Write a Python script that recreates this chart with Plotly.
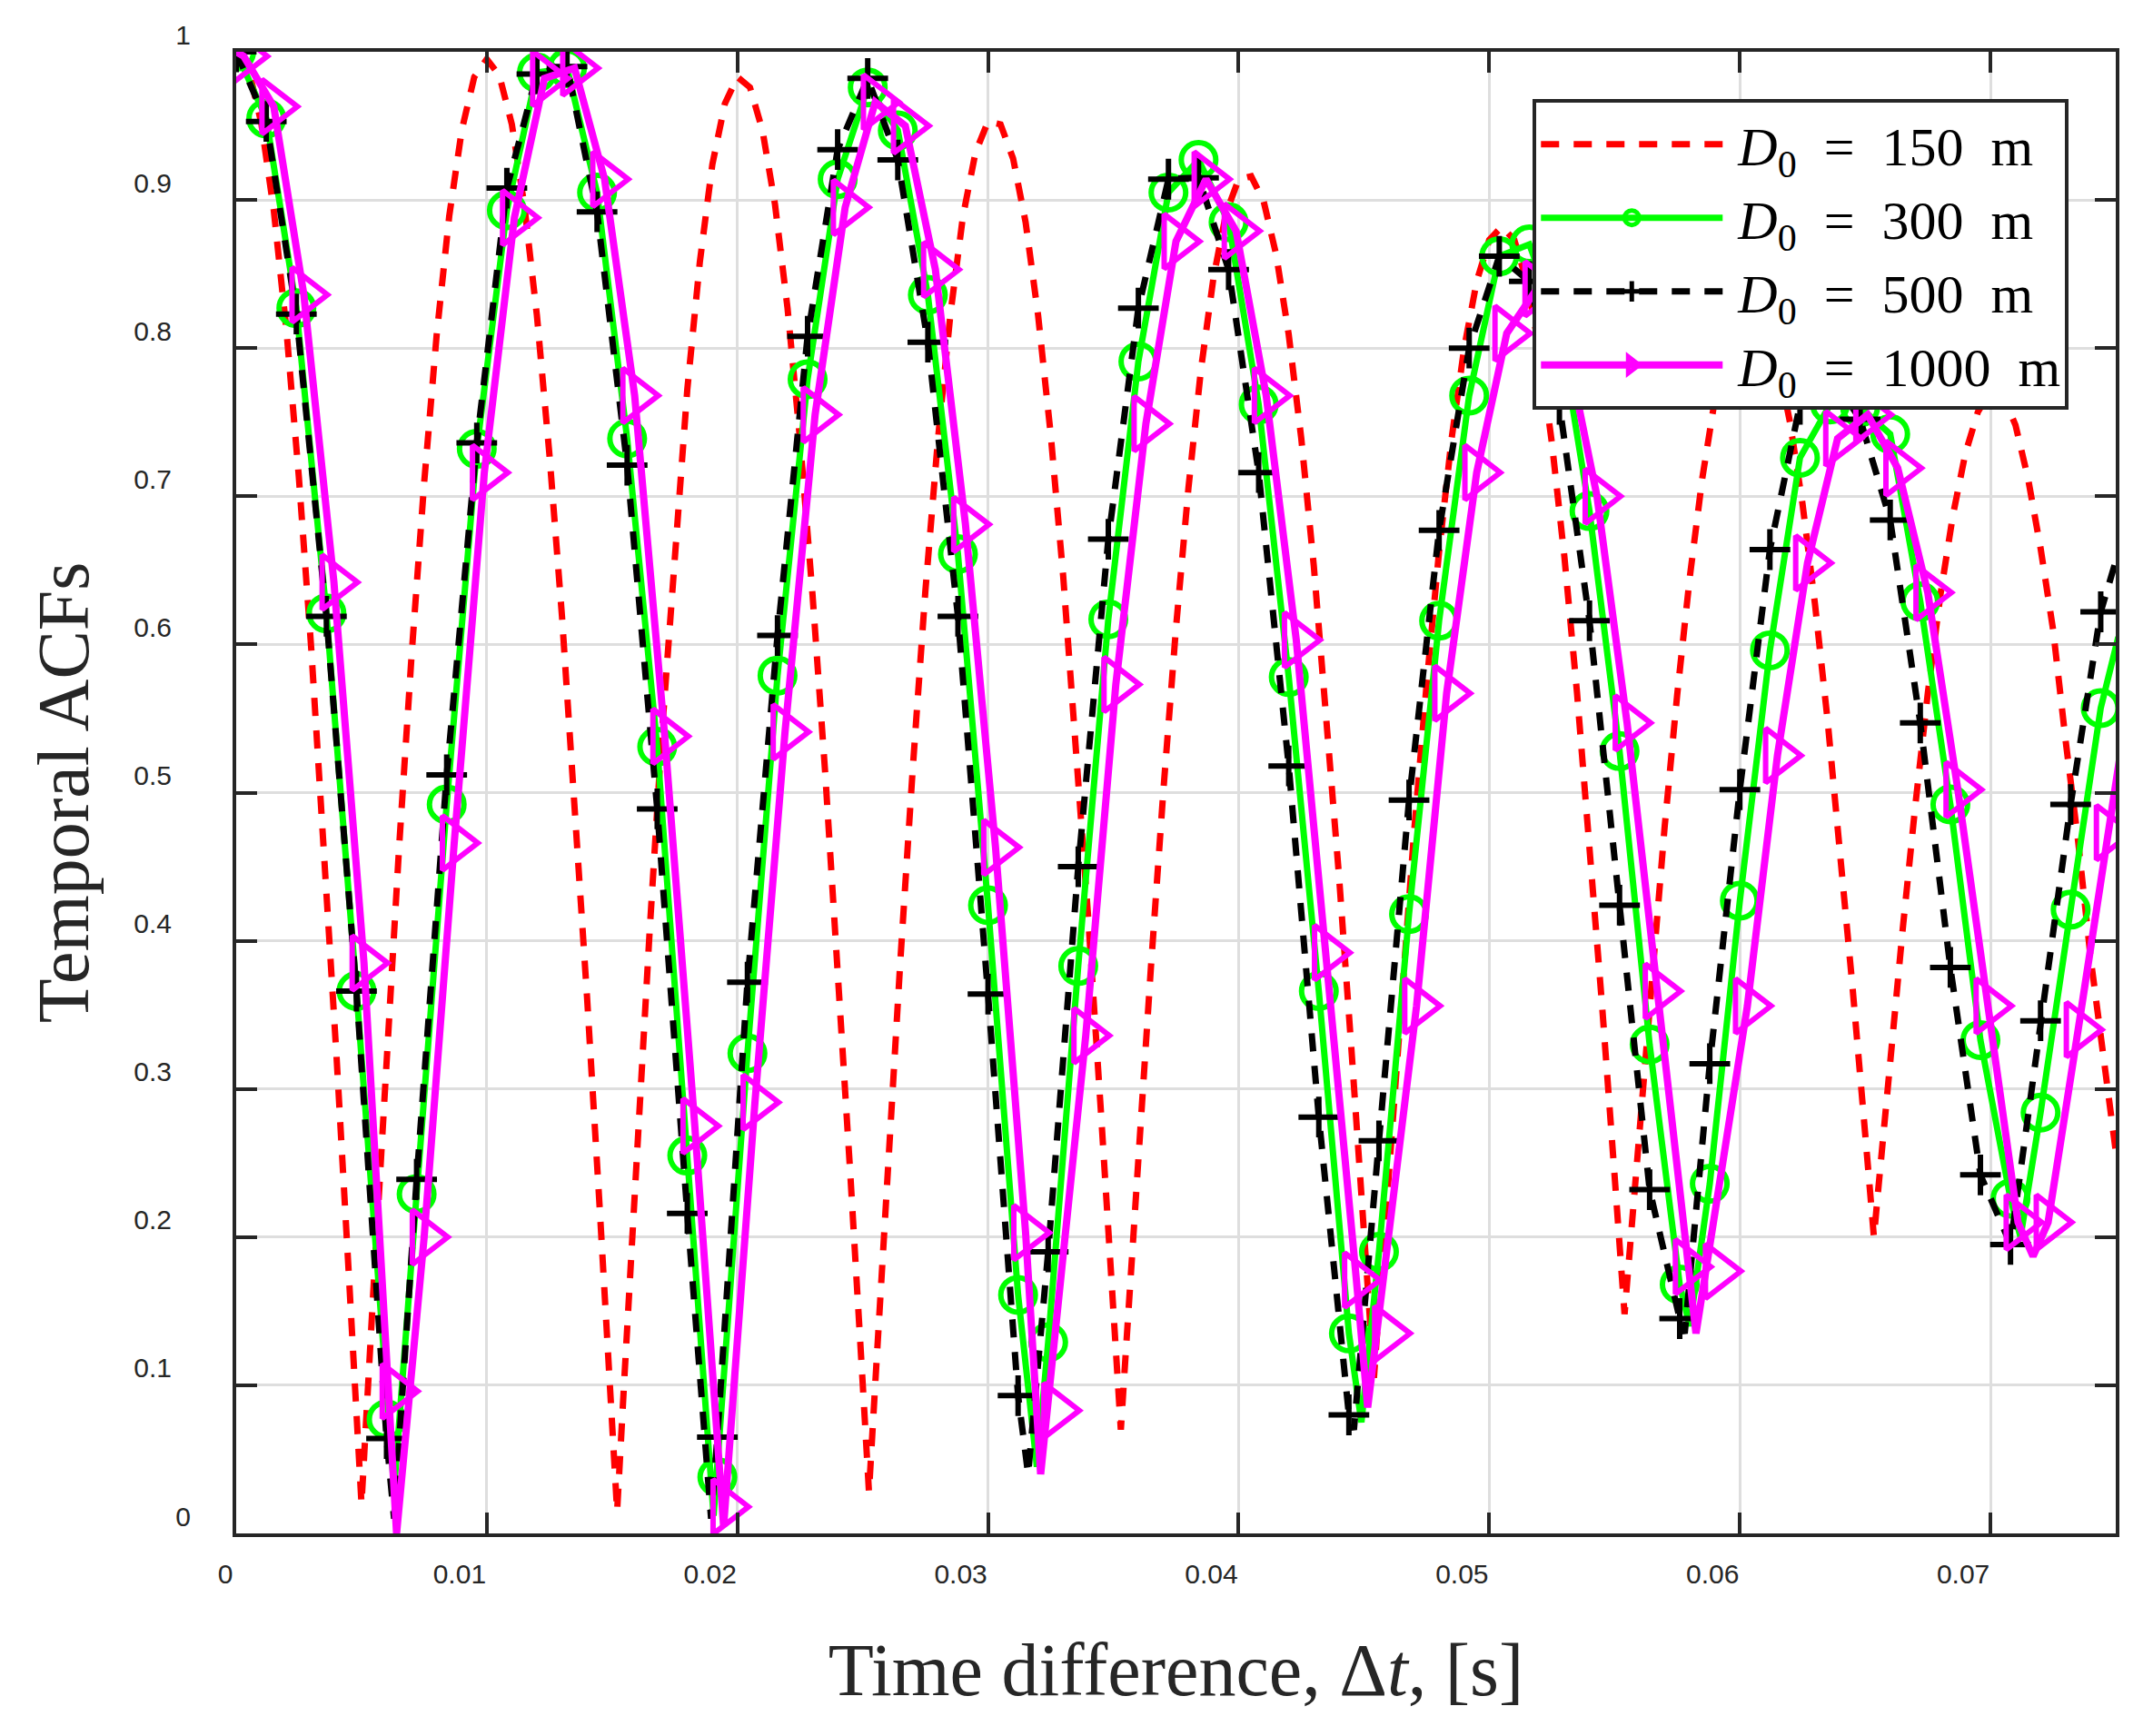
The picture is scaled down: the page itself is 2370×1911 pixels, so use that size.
import numpy as np
import plotly.graph_objects as go

# ---- D0 = 150 m (red dashed), time in ms ----
red_t = [0.0, 0.5, 1.0, 1.5, 2.0, 2.5, 3.0, 3.5, 4.0, 4.5, 5.0,
         5.5, 6.0, 6.5, 7.0, 7.5, 8.0, 8.5, 9.0, 9.5, 10.0,
         10.5, 11.0, 11.5, 12.0, 12.5, 13.0, 13.5, 14.0, 14.5, 15.0, 15.2,
         15.5, 16.0, 16.5, 17.0, 17.5, 18.0, 18.5, 19.0, 19.5, 20.0,
         20.5, 21.0, 21.5, 22.0, 22.5, 23.0, 23.5, 24.0, 24.5, 25.0, 25.25,
         25.5, 26.0, 26.5, 27.0, 27.5, 28.0, 28.5, 29.0, 29.5, 30.0,
         30.5, 31.0, 31.5, 32.0, 32.5, 33.0, 33.5, 34.0, 34.5, 35.0, 35.3,
         35.5, 36.0, 36.5, 37.0, 37.5, 38.0, 38.5, 39.0, 39.5, 40.0,
         40.5, 41.0, 41.5, 42.0, 42.5, 43.0, 43.5, 44.0, 44.5, 45.0, 45.4,
         45.5, 46.0, 46.5, 47.0, 47.5, 48.0, 48.5, 49.0, 49.5, 50.0,
         50.5, 51.0, 51.5, 52.0, 52.5, 53.0, 53.5, 54.0, 54.5, 55.0, 55.4,
         55.5, 56.0, 56.5, 57.0, 57.5, 58.0, 58.5, 59.0, 59.5, 60.0,
         60.5, 61.0, 61.5, 62.0, 62.5, 63.0, 63.5, 64.0, 64.5, 65.0, 65.35,
         65.5, 66.0, 66.5, 67.0, 67.5, 68.0, 68.5, 69.0, 69.5, 70.0,
         70.5, 71.0, 71.5, 72.0, 72.5, 73.0, 73.5, 74.0, 74.5, 75.0]
red_v = [1.000, 0.988, 0.952, 0.893, 0.813, 0.713, 0.596, 0.465, 0.323, 0.173, 0.020,
         0.172, 0.321, 0.463, 0.593, 0.709, 0.809, 0.889, 0.947, 0.983, 0.995,
         0.984, 0.951, 0.896, 0.822, 0.728, 0.619, 0.496, 0.362, 0.221, 0.074, 0.015,
         0.108, 0.260, 0.407, 0.543, 0.664, 0.772, 0.858, 0.924, 0.965, 0.983,
         0.976, 0.947, 0.897, 0.827, 0.738, 0.633, 0.514, 0.383, 0.244, 0.101, 0.028,
         0.101, 0.247, 0.386, 0.517, 0.636, 0.738, 0.823, 0.889, 0.932, 0.953,
         0.951, 0.928, 0.885, 0.822, 0.742, 0.646, 0.536, 0.415, 0.286, 0.152, 0.070,
         0.123, 0.255, 0.382, 0.502, 0.611, 0.706, 0.786, 0.848, 0.891, 0.914,
         0.916, 0.899, 0.863, 0.809, 0.739, 0.653, 0.554, 0.445, 0.327, 0.205, 0.105,
         0.129, 0.248, 0.364, 0.473, 0.573, 0.663, 0.739, 0.800, 0.845, 0.873,
         0.882, 0.873, 0.845, 0.799, 0.736, 0.659, 0.568, 0.467, 0.357, 0.242, 0.148,
         0.169, 0.276, 0.379, 0.477, 0.566, 0.645, 0.712, 0.765, 0.803, 0.825,
         0.830, 0.819, 0.792, 0.750, 0.695, 0.627, 0.549, 0.462, 0.368, 0.270, 0.200,
         0.228, 0.320, 0.408, 0.491, 0.567, 0.633, 0.687, 0.729, 0.757, 0.771,
         0.768, 0.748, 0.712, 0.665, 0.610, 0.535, 0.467, 0.388, 0.322, 0.258]

# ---- marker samples (ms) ----
mark_t = [0.0, 1.2, 2.4, 3.6, 4.8, 6.0, 7.2, 8.4, 9.6, 10.8,
          12.0, 13.2, 14.4, 15.6, 16.8, 18.0, 19.2, 20.4, 21.6, 22.8,
          24.0, 25.2, 26.4, 27.6, 28.8, 30.0, 31.2, 32.4, 33.6, 34.8,
          36.0, 37.2, 38.4, 39.6, 40.8, 42.0, 43.2, 44.4, 45.6, 46.8,
          48.0, 49.2, 50.4, 51.6, 52.8, 54.0, 55.2, 56.4, 57.6, 58.8,
          60.0, 61.2, 62.4, 63.6, 64.8, 66.0, 67.2, 68.4, 69.6, 70.8,
          72.0, 73.2, 74.4]
green_mark = [1.0, 0.955, 0.827, 0.621, 0.366, 0.077, 0.229, 0.492, 0.732, 0.893,
              0.986, 0.989, 0.905, 0.739, 0.531, 0.255, 0.038, 0.324, 0.579, 0.779,
              0.914, 0.976, 0.947, 0.836, 0.661, 0.424, 0.161, 0.129, 0.383, 0.617,
              0.791, 0.905, 0.927, 0.885, 0.762, 0.578, 0.366, 0.135, 0.19, 0.418,
              0.616, 0.768, 0.862, 0.87, 0.815, 0.69, 0.528, 0.33, 0.168, 0.236,
              0.427, 0.596, 0.726, 0.762, 0.76, 0.742, 0.629, 0.492, 0.333, 0.226,
              0.284, 0.421, 0.557]
black_mark = [1.0, 0.953, 0.823, 0.619, 0.366, 0.064, 0.239, 0.512, 0.736, 0.908,
              0.985, 0.99, 0.892, 0.721, 0.489, 0.216, 0.065, 0.372, 0.606, 0.808,
              0.934, 0.982, 0.927, 0.804, 0.619, 0.364, 0.093, 0.19, 0.45, 0.671,
              0.827, 0.914, 0.915, 0.853, 0.716, 0.518, 0.281, 0.08, 0.265, 0.495,
              0.677, 0.80, 0.862, 0.845, 0.762, 0.616, 0.424, 0.232, 0.145, 0.317,
              0.502, 0.664, 0.762, 0.782, 0.752, 0.684, 0.547, 0.382, 0.242, 0.195,
              0.346, 0.492, 0.622]
mag_mark_t = [0.3, 1.5, 2.7, 3.9, 5.1, 6.3, 7.5, 8.7, 9.9, 11.1,
              12.3, 13.5, 14.7, 15.9, 17.1, 18.3, 19.5, 20.7, 21.9, 23.1,
              24.3, 25.5, 26.7, 27.9, 29.1, 30.3, 31.5, 32.7, 33.9, 35.1,
              36.3, 37.5, 38.7, 39.9, 41.1, 42.3, 43.5, 44.7, 45.9, 47.1,
              48.3, 49.5, 50.7, 51.9, 53.1, 54.3, 55.5, 56.7, 57.9, 59.1,
              60.3, 61.5, 62.7, 63.9, 65.1, 66.3, 67.5, 68.7, 69.9, 71.1,
              72.3, 73.5, 74.7]
mag_mark = [0.997, 0.963, 0.836, 0.642, 0.385, 0.096, 0.2, 0.466, 0.716, 0.888,
            0.982, 0.989, 0.914, 0.768, 0.538, 0.275, 0.018, 0.291, 0.541, 0.755,
            0.895, 0.966, 0.95, 0.853, 0.681, 0.463, 0.203, 0.083, 0.336, 0.573,
            0.749, 0.872, 0.914, 0.879, 0.768, 0.603, 0.392, 0.171, 0.135, 0.356,
            0.567, 0.716, 0.81, 0.84, 0.80, 0.70, 0.547, 0.366, 0.18, 0.177,
            0.356, 0.525, 0.655, 0.739, 0.755, 0.719, 0.635, 0.502, 0.356, 0.21,
            0.21, 0.34, 0.473]

# ---- curves (ms) ----
green_t = [0, 1.2, 2.4, 3.6, 4.8, 6.3, 7.2, 8.4, 9.6, 10.8, 12.0, 13.2, 14.4, 15.6, 16.8,
           18.0, 19.05, 20.4, 21.6, 22.8, 24.0, 25.2, 26.4, 27.6, 28.8, 30.0, 31.2, 31.95,
           32.4, 33.6, 34.8, 36.0, 37.2, 38.4, 39.6, 40.8, 42.0, 43.2, 44.4, 44.9, 45.6,
           46.8, 48.0, 49.2, 50.4, 51.6, 52.8, 54.0, 55.2, 56.4, 57.6, 58.0, 58.8, 60.0,
           61.2, 62.4, 63.6, 64.8, 66.0, 67.2, 68.4, 69.6, 70.8, 71.2, 72.0, 73.2, 74.4, 75.1]
green_v = [1.0, 0.955, 0.827, 0.621, 0.366, 0.03, 0.229, 0.492, 0.732, 0.893, 0.986, 0.989,
           0.905, 0.739, 0.531, 0.255, 0.012, 0.324, 0.579, 0.779, 0.914, 0.976, 0.947,
           0.836, 0.661, 0.424, 0.161, 0.045, 0.129, 0.383, 0.617, 0.791, 0.905, 0.927,
           0.885, 0.762, 0.578, 0.366, 0.135, 0.075, 0.19, 0.418, 0.616, 0.768, 0.862,
           0.87, 0.815, 0.69, 0.528, 0.33, 0.168, 0.14, 0.236, 0.427, 0.596, 0.726, 0.762,
           0.76, 0.742, 0.629, 0.492, 0.333, 0.226, 0.2, 0.284, 0.421, 0.557, 0.605]
black_t = [0, 1.2, 2.4, 3.6, 4.8, 6.0, 6.3, 7.2, 8.4, 9.6, 10.8, 12.0, 13.2, 14.4, 15.6,
           16.8, 18.0, 18.95, 19.2, 20.4, 21.6, 22.8, 24.0, 25.2, 26.4, 27.6, 28.8, 30.0,
           31.2, 31.6, 32.4, 33.6, 34.8, 36.0, 37.2, 38.4, 39.6, 40.8, 42.0, 43.2, 44.4,
           44.6, 45.6, 46.8, 48.0, 49.2, 50.4, 51.6, 52.8, 54.0, 55.2, 56.4, 57.6, 57.8,
           58.8, 60.0, 61.2, 62.4, 63.6, 64.8, 66.0, 67.2, 68.4, 69.6, 70.8, 72.0, 73.2,
           74.4, 75.1]
black_v = [1.0, 0.953, 0.823, 0.619, 0.366, 0.064, 0.01, 0.239, 0.512, 0.736, 0.908, 0.985,
           0.99, 0.892, 0.721, 0.489, 0.216, 0.01, 0.065, 0.372, 0.606, 0.808, 0.934, 0.982,
           0.927, 0.804, 0.619, 0.364, 0.093, 0.04, 0.19, 0.45, 0.671, 0.827, 0.914, 0.915,
           0.853, 0.716, 0.518, 0.281, 0.08, 0.07, 0.265, 0.495, 0.677, 0.80, 0.862, 0.845,
           0.762, 0.616, 0.424, 0.232, 0.145, 0.135, 0.317, 0.502, 0.664, 0.762, 0.782,
           0.752, 0.684, 0.547, 0.382, 0.242, 0.195, 0.346, 0.492, 0.622, 0.662]
mag_t = [0, 0.3, 1.5, 2.7, 3.9, 5.1, 6.4, 7.5, 8.7, 9.9, 11.1, 12.3, 13.5, 14.7, 15.9, 17.1,
         18.3, 19.45, 20.7, 21.9, 23.1, 24.3, 25.5, 26.7, 27.9, 29.1, 30.3, 31.5, 32.1, 33.9,
         35.1, 36.3, 37.5, 38.7, 39.9, 41.1, 42.3, 43.5, 44.7, 45.15, 47.1, 48.3, 49.5, 50.7,
         51.9, 53.1, 54.3, 55.5, 56.7, 57.9, 58.25, 60.3, 61.5, 62.7, 63.9, 65.1, 66.3, 67.5,
         68.7, 69.9, 71.1, 71.7, 72.3, 73.5, 74.7, 75.2]
mag_v = [1.0, 0.997, 0.963, 0.836, 0.642, 0.385, 0.0, 0.2, 0.466, 0.716, 0.888, 0.982,
         0.989, 0.914, 0.768, 0.538, 0.275, 0.005, 0.291, 0.541, 0.755, 0.895, 0.966, 0.95,
         0.853, 0.681, 0.463, 0.203, 0.04, 0.336, 0.573, 0.749, 0.872, 0.914, 0.879, 0.768,
         0.603, 0.392, 0.171, 0.085, 0.356, 0.567, 0.716, 0.81, 0.84, 0.80, 0.70, 0.547,
         0.366, 0.18, 0.135, 0.356, 0.525, 0.655, 0.739, 0.755, 0.719, 0.635, 0.502, 0.356,
         0.21, 0.187, 0.21, 0.34, 0.473, 0.528]

distances = ["150", "300", "500", "1000"]
labels = ["\u2009<i>D</i><sub>0</sub>\u2002=\u2002%s\u2002m" % d for d in distances]

# tick labels (MATLAB export places them slightly off; padding mimics that)
x_ticks = [0, 0.01, 0.02, 0.03, 0.04, 0.05, 0.06, 0.07]
x_tick_text = ["\u2002\u2002\u20090", "0.01", "0.02", "0.03", "0.04", "0.05", "0.06", "0.07"]
y_ticks = [0, 0.1, 0.2, 0.3, 0.4, 0.5, 0.6, 0.7, 0.8, 0.9, 1]
y_tick_text = (["0"] + ["\u2002\u20090.%d\u2002\u2009" % i for i in range(1, 10)] + ["1"])

ms = lambda a: np.array(a) / 1000.0
AX = "#262626"
DASH = "20px,16px"

fig = go.Figure()

# red
fig.add_trace(go.Scatter(x=ms(red_t), y=red_v, mode="lines", name=labels[0],
                         line=dict(color="#ff0000", width=7, dash=DASH)))
# green
g_marker = dict(symbol="circle-open", size=38, color="#00ff00",
                line=dict(width=6, color="#00ff00"))
fig.add_trace(go.Scatter(x=ms(green_t), y=green_v, mode="lines", showlegend=False,
                         line=dict(color="#00ff00", width=7)))
fig.add_trace(go.Scatter(x=ms(mark_t), y=green_mark, mode="markers", showlegend=False,
                         marker=g_marker))
fig.add_trace(go.Scatter(x=[None], y=[None], mode="lines+markers", name=labels[1],
                         line=dict(color="#00ff00", width=7), marker=g_marker))
# black
k_marker = dict(symbol="cross-thin-open", size=32, color="#000000",
                line=dict(width=6, color="#000000"))
fig.add_trace(go.Scatter(x=ms(black_t), y=black_v, mode="lines", showlegend=False,
                         line=dict(color="#000000", width=7, dash=DASH)))
fig.add_trace(go.Scatter(x=ms(mark_t), y=black_mark, mode="markers", showlegend=False,
                         marker=k_marker))
fig.add_trace(go.Scatter(x=[None], y=[None], mode="lines+markers", name=labels[2],
                         line=dict(color="#000000", width=7, dash=DASH), marker=k_marker))
# magenta
m_marker = dict(symbol="triangle-right-open", size=52, color="#ff00ff",
                line=dict(width=6, color="#ff00ff"))
fig.add_trace(go.Scatter(x=ms(mag_t), y=mag_v, mode="lines", showlegend=False,
                         line=dict(color="#ff00ff", width=8)))
fig.add_trace(go.Scatter(x=ms(mag_mark_t), y=mag_mark, mode="markers", showlegend=False,
                         marker=m_marker))
fig.add_trace(go.Scatter(x=[None], y=[None], mode="lines+markers", name=labels[3],
                         line=dict(color="#ff00ff", width=8), marker=m_marker))

axis_common = dict(showline=True, linecolor=AX, linewidth=4, mirror="ticks",
                   ticks="inside", ticklen=23, tickwidth=4, tickcolor=AX,
                   showgrid=True, gridcolor="#dedede", gridwidth=3, zeroline=False,
                   tickfont=dict(family="Liberation Sans", size=30, color=AX))

fig.update_xaxes(range=[0, 0.075], tickmode="array", tickvals=x_ticks, ticktext=x_tick_text,
                 ticklabelstandoff=15, ticklabelshift=-30,
                 title=dict(text="Time difference, Δ<i>t</i>, [s]", standoff=62,
                            font=dict(family="Liberation Serif", size=82, color=AX)),
                 **axis_common)
fig.update_yaxes(range=[0, 1], tickmode="array", tickvals=y_ticks, ticktext=y_tick_text,
                 ticklabelstandoff=40, ticklabelshift=-19,
                 title=dict(text="Temporal ACFs", standoff=3,
                            font=dict(family="Liberation Serif", size=80, color=AX)),
                 **axis_common)

fig.update_layout(
    width=2362, height=1903,
    margin=dict(l=252, r=41, t=49, b=223),
    paper_bgcolor="white", plot_bgcolor="white",
    showlegend=True,
    legend=dict(x=0.975, y=0.968, xanchor="right", yanchor="top",
                bgcolor="white", bordercolor=AX, borderwidth=4,
                itemwidth=200, tracegroupgap=0,
                font=dict(family="Liberation Serif", size=60, color="black")),
)

fig.write_html("out.html")
